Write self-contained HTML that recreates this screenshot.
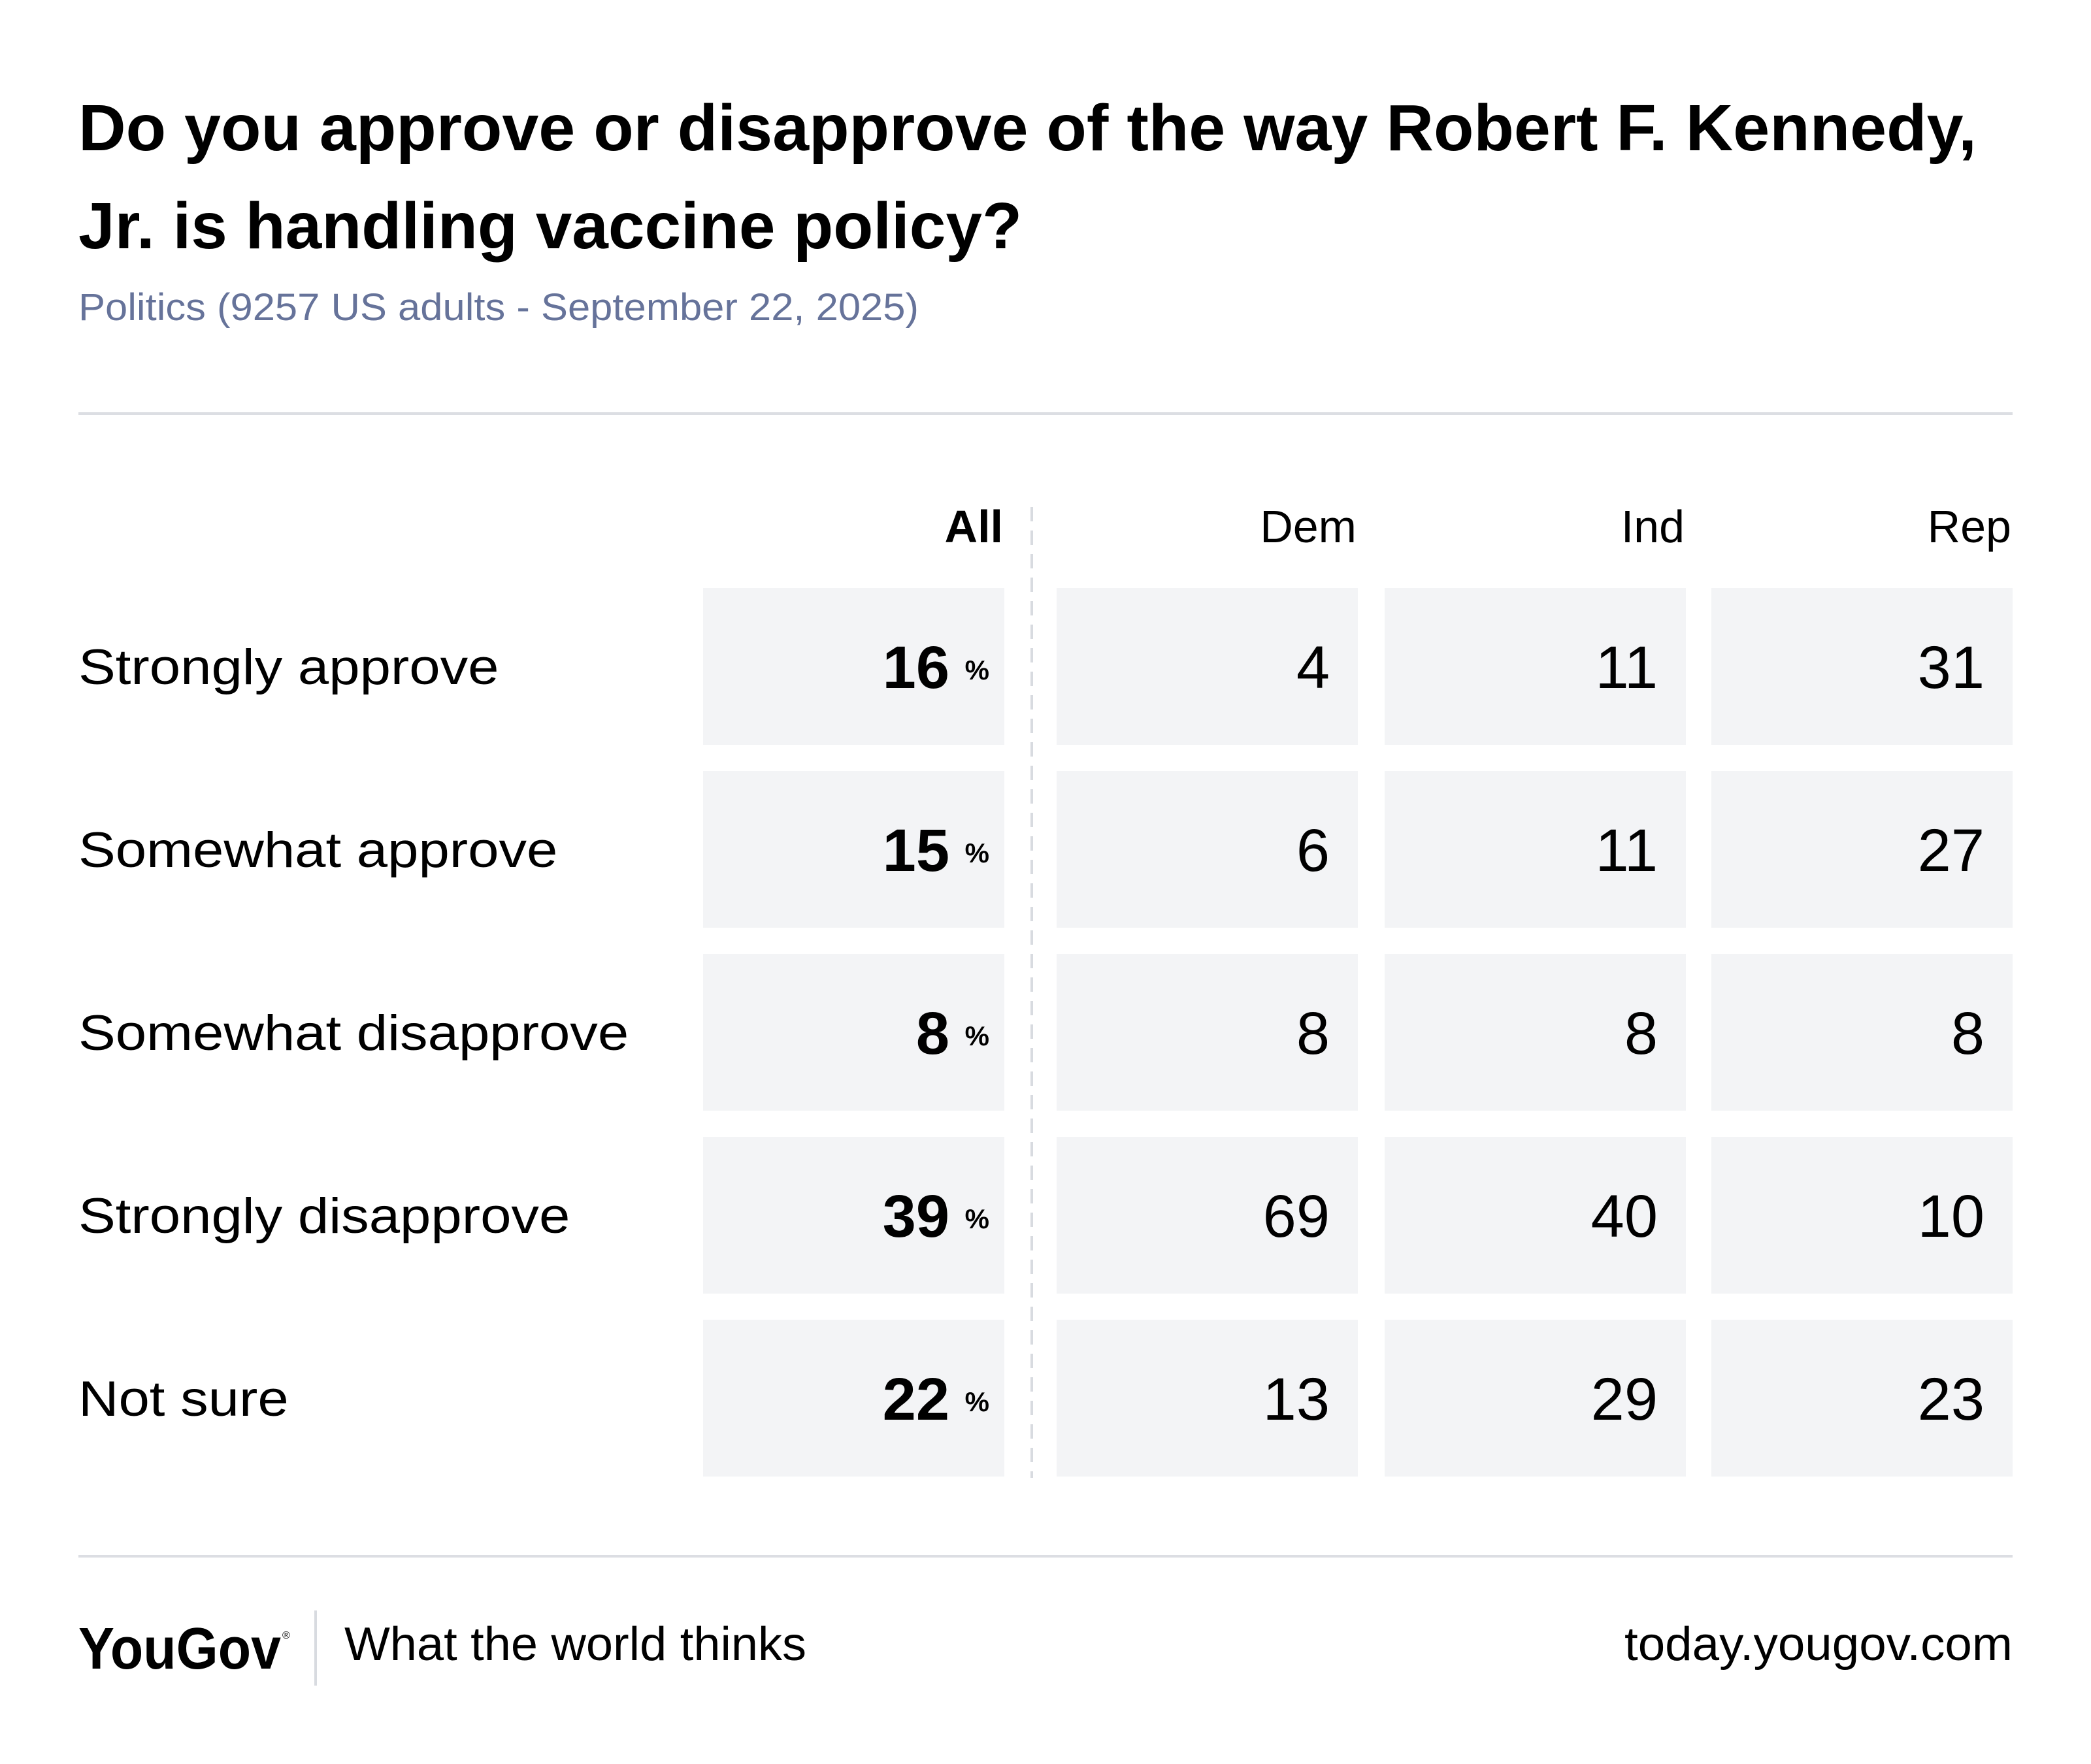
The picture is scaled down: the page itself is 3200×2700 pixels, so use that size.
<!DOCTYPE html>
<html><head><meta charset="utf-8"><style>
html,body{margin:0;padding:0;background:#fff;}
svg{display:block;font-family:"Liberation Sans",sans-serif;}
</style></head><body>
<svg id="chart" width="3200" height="2700" viewBox="0 0 3200 2700" xmlns="http://www.w3.org/2000/svg">
<rect width="3200" height="2700" fill="#fff"/>
<text x="120" y="230" font-size="100" font-weight="bold" fill="#000" textLength="2905" lengthAdjust="spacingAndGlyphs">Do you approve or disapprove of the way Robert F. Kennedy,</text>
<text x="120" y="380" font-size="100" font-weight="bold" fill="#000" textLength="1444" lengthAdjust="spacingAndGlyphs">Jr. is handling vaccine policy?</text>
<text x="120" y="490" font-size="58" fill="#66739a" textLength="1286" lengthAdjust="spacingAndGlyphs">Politics (9257 US adults - September 22, 2025)</text>
<line x1="120" y1="633" x2="3080" y2="633" stroke="#dcdee3" stroke-width="4"/>
<line x1="1579" y1="776" x2="1579" y2="2262" stroke="#d8dbe0" stroke-width="4" stroke-dasharray="22,14"/>
<g id="table"></g>
<line x1="120" y1="2382" x2="3080" y2="2382" stroke="#dcdee3" stroke-width="4"/>
<text x="120" y="2554" font-size="90" font-weight="bold" fill="#000" textLength="310" lengthAdjust="spacingAndGlyphs">YouGov</text>
<text x="432" y="2508" font-size="16" fill="#000">®</text>
<line x1="483" y1="2465" x2="483" y2="2580" stroke="#d8dbe0" stroke-width="4"/>
<text x="527" y="2541" font-size="72" fill="#000" textLength="707" lengthAdjust="spacingAndGlyphs">What the world thinks</text>
<text x="3080" y="2541" font-size="72" fill="#000" text-anchor="end" textLength="594" lengthAdjust="spacingAndGlyphs">today.yougov.com</text>
</svg>
<script>
const rowLabels = ["Strongly approve","Somewhat approve","Somewhat disapprove","Strongly disapprove","Not sure"];
const columns = ["All","Dem","Ind","Rep"];
const allValues = [16,15,8,39,22];
const demValues = [4,6,8,69,13];
const indValues = [11,11,8,40,29];
const repValues = [31,27,8,10,23];
const series = [allValues, demValues, indValues, repValues];
const NS = "http://www.w3.org/2000/svg";
const g = document.getElementById("table");
const colLeft = [1076,1617,2119,2619], colW = 461;
const rowTop = i => 900 + i*280, rowH = 240;
function mk(tag, attrs, txt){const e=document.createElementNS(NS,tag);for(const k in attrs)e.setAttribute(k,attrs[k]);if(txt!==undefined)e.textContent=txt;g.appendChild(e);return e;}
columns.forEach((c,j)=>{
  const t = mk("text",{x:colLeft[j]+colW-2,y:830,"font-size":70,"font-weight":j===0?"bold":"normal","text-anchor":"end",fill:"#000"},c);
  
  
});
rowLabels.forEach((lab,i)=>{
  const cy = rowTop(i)+rowH/2;
  const t = mk("text",{x:120,y:cy+27,"font-size":76,fill:"#000"},lab);
  
  
  const w = t.getComputedTextLength();
  if (w > 0) { t.setAttribute("textLength", (w*1.12).toFixed(1)); t.setAttribute("lengthAdjust","spacingAndGlyphs"); }
  series.forEach((vals,j)=>{
    const r = mk("rect",{x:colLeft[j],y:rowTop(i),width:colW,height:rowH,fill:"#f3f4f6"});
    
    
    if(j===0){
      const v = mk("text",{x:1453,y:cy+33,"font-size":92,"font-weight":"bold","text-anchor":"end",fill:"#000"},String(vals[i]));
      
      
      const p = mk("text",{x:1514,y:cy+20,"font-size":42,"font-weight":"bold","text-anchor":"end",fill:"#000"},"%");
      
      
    } else {
      const v = mk("text",{x:colLeft[j]+colW-43,y:cy+33,"font-size":92,"text-anchor":"end",fill:"#000"},String(vals[i]));
      
      
    }
  });
});
</script>
</body></html>
